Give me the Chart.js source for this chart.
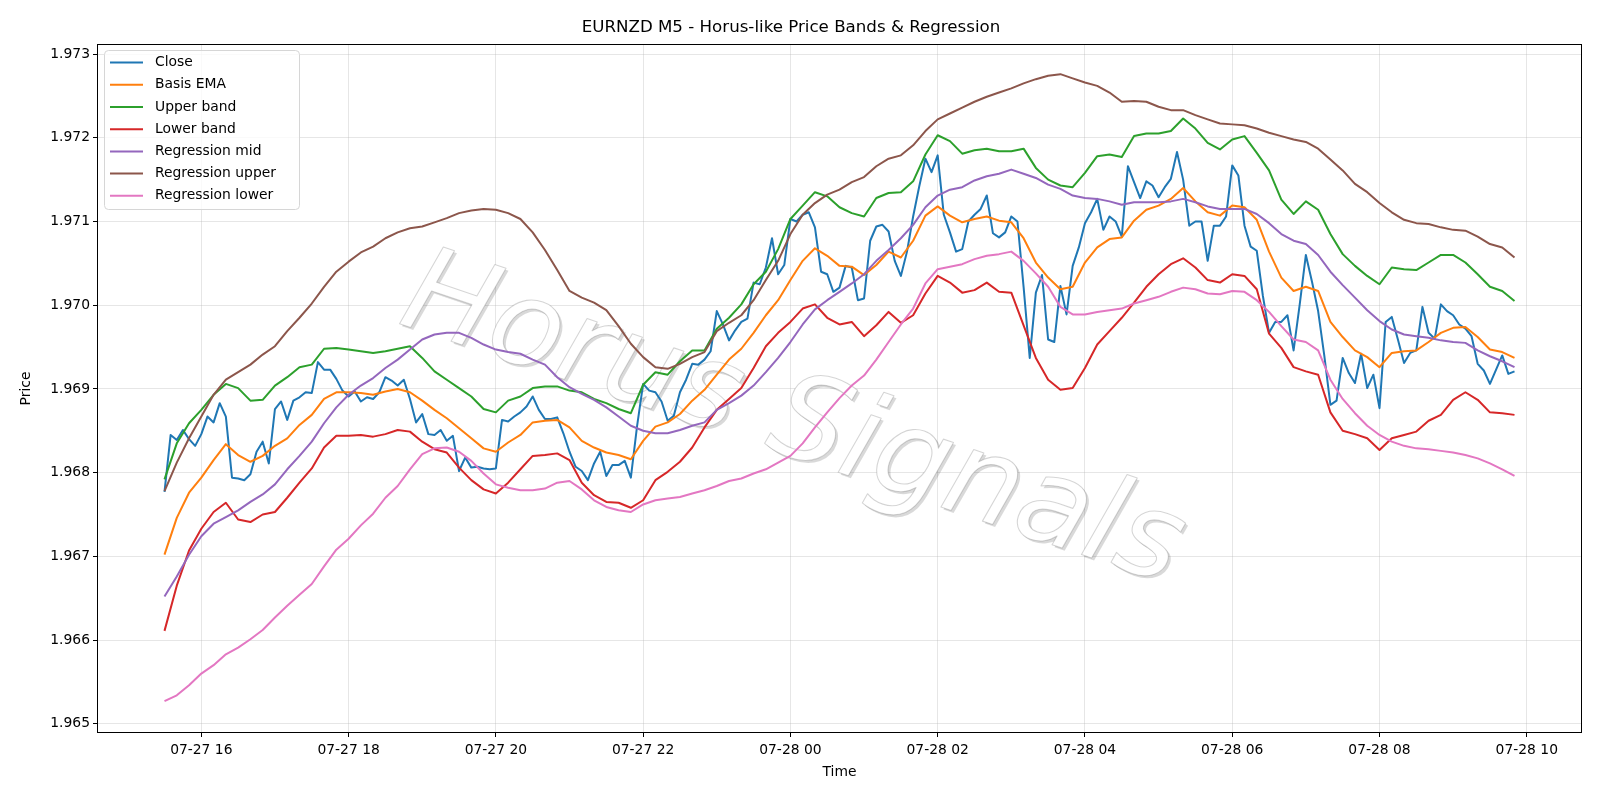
<!DOCTYPE html>
<html>
<head>
<meta charset="utf-8">
<title>EURNZD M5</title>
<script src="https://cdn.jsdelivr.net/npm/chart.js@4.4.1/dist/chart.umd.min.js"></script>
<style>
    html, body { margin: 0; padding: 0; background: #fff; }
</style>
</head>
<body>
<canvas id="priceChart" width="1600" height="800"></canvas>
<script>
// 時刻は 07-27 00:00 からの分数
const closeStart = 930;   // 07-27 15:30
const closeStep = 5;
const bandStart = 930;
const bandStep = 10;

// 終値 (5分足)
const closeValues = [
    1.96777, 1.96845, 1.96839, 1.96851, 1.9684, 1.96832, 1.96846, 1.96867, 1.9686, 1.96883,
    1.96867, 1.96794, 1.96793, 1.96791, 1.96798, 1.96825, 1.96837, 1.96811, 1.96876, 1.96885,
    1.96863, 1.96886, 1.9689, 1.96896, 1.96895, 1.96932, 1.96923, 1.96923, 1.96912, 1.96898,
    1.96891, 1.96897, 1.96885, 1.9689, 1.96888, 1.96896, 1.96914, 1.9691, 1.96904, 1.96911,
    1.96888, 1.9686, 1.9687, 1.96846, 1.96845, 1.96851, 1.96838, 1.96844, 1.96802, 1.96818,
    1.96806, 1.96807, 1.96805, 1.96804, 1.96805, 1.96863, 1.96861, 1.96867, 1.96872, 1.96879,
    1.96891, 1.96875, 1.96864, 1.96864, 1.96866, 1.96847, 1.96825, 1.96807, 1.96802, 1.96791,
    1.96811, 1.96825, 1.96796, 1.96809, 1.96809, 1.96814, 1.96794, 1.96855, 1.96906, 1.96898,
    1.96896, 1.96885, 1.96862, 1.96868, 1.96896, 1.96911, 1.9693, 1.96929, 1.96935, 1.96945,
    1.96993, 1.96977, 1.96958, 1.9697, 1.9698, 1.96984, 1.97027, 1.97025, 1.97045, 1.9708,
    1.97037, 1.97048, 1.97103, 1.971, 1.97108, 1.97111, 1.97093, 1.9704, 1.97037, 1.97016,
    1.97021, 1.97047, 1.97045, 1.97006, 1.97008, 1.97077, 1.97094, 1.97096, 1.97088, 1.97053,
    1.97035, 1.97064, 1.97106, 1.97142, 1.97175, 1.97159, 1.97179, 1.97108, 1.97087, 1.97064,
    1.97067, 1.971, 1.97108, 1.97115, 1.97131, 1.97086, 1.97081, 1.97087, 1.97106, 1.971,
    1.97022, 1.96937, 1.97015, 1.97036, 1.96959, 1.96956, 1.97023, 1.96989, 1.97047, 1.97069,
    1.97098, 1.97111, 1.97127, 1.9709, 1.97106, 1.971, 1.97082, 1.97166, 1.97147, 1.97128,
    1.97148, 1.97143, 1.97129, 1.97141, 1.97151, 1.97183, 1.9715, 1.97095, 1.971, 1.971,
    1.97053, 1.97095, 1.97095, 1.97106, 1.97167, 1.97155, 1.97095, 1.9707, 1.97065, 1.97011,
    1.96967, 1.9698, 1.9698, 1.96988, 1.96946, 1.97001, 1.9706, 1.97028, 1.96993, 1.9694,
    1.96881, 1.96886, 1.96937, 1.96919, 1.96907, 1.96942, 1.96901, 1.96917, 1.96877, 1.9698,
    1.96986, 1.96959, 1.96931, 1.96943, 1.96946, 1.96998, 1.96967, 1.9696, 1.97001, 1.96993,
    1.96988, 1.96977, 1.96972, 1.96963, 1.9693, 1.96922, 1.96906, 1.96923, 1.9694, 1.96918,
    1.96921
];

// バンド類 (10分ごとに読み取り)
const basisEma = [
    1.96702, 1.96746, 1.96776, 1.96794, 1.96815, 1.96834, 1.96821, 1.96813, 1.9682, 1.96832,
    1.96841, 1.96857, 1.96869, 1.96888, 1.96896, 1.96896, 1.96895, 1.96893, 1.96897, 1.969,
    1.96896, 1.96886, 1.96875, 1.96865, 1.96853, 1.96841, 1.96829, 1.96825, 1.96836, 1.96845,
    1.9686, 1.96862, 1.96863, 1.96854, 1.96838, 1.9683, 1.96824, 1.96821, 1.96816, 1.96838,
    1.96855, 1.9686, 1.9687, 1.96886, 1.96899, 1.96917, 1.96935, 1.96948, 1.96967, 1.96988,
    1.97006, 1.9703, 1.97053, 1.97068, 1.97059, 1.97047, 1.97046, 1.97036, 1.97048, 1.97064,
    1.97057, 1.97077, 1.97107, 1.97118, 1.97107, 1.97099, 1.97103, 1.97106, 1.97101, 1.97099,
    1.9708, 1.97051, 1.97033, 1.97019, 1.97022, 1.97051, 1.97069, 1.97079, 1.97081, 1.97101,
    1.97114, 1.97119, 1.97127, 1.9714, 1.97124, 1.97111, 1.97107, 1.97119, 1.97117, 1.97102,
    1.97064, 1.97033, 1.97017, 1.97022, 1.97017, 1.9698, 1.96962, 1.96946, 1.96938, 1.96926,
    1.96943, 1.96945, 1.96946, 1.96956, 1.96967, 1.96973, 1.96974, 1.96962, 1.96947, 1.96944,
    1.96937
];

const upperBand = [
    1.96792, 1.96835, 1.96859, 1.96875, 1.96893, 1.96906, 1.96901, 1.96886, 1.96887, 1.96904,
    1.96914, 1.96926, 1.96929, 1.96948, 1.96949, 1.96947, 1.96945, 1.96943, 1.96945, 1.96948,
    1.96951, 1.96937, 1.96921, 1.96911, 1.96901, 1.96891, 1.96876, 1.96872, 1.96886, 1.96891,
    1.96901, 1.96903, 1.96903, 1.96898, 1.96896, 1.96888, 1.96883, 1.96876, 1.96871, 1.96905,
    1.9692, 1.96917, 1.96933, 1.96946, 1.96946, 1.96972, 1.96985, 1.97001, 1.97025, 1.9704,
    1.97067, 1.97103, 1.97119, 1.97135, 1.9713, 1.97117, 1.9711, 1.97106, 1.97128, 1.97134,
    1.97135, 1.97148, 1.9718, 1.97203, 1.97196, 1.97181, 1.97185, 1.97187, 1.97184, 1.97184,
    1.97187, 1.97164, 1.9715, 1.97143, 1.97141, 1.97158, 1.97178, 1.9718, 1.97177, 1.97202,
    1.97205, 1.97205, 1.97208, 1.97223, 1.97211, 1.97194, 1.97186, 1.97198, 1.97202, 1.97182,
    1.97161, 1.97126, 1.97109, 1.97124, 1.97114, 1.97085, 1.97061, 1.97047, 1.97035, 1.97025,
    1.97045, 1.97043, 1.97042, 1.97051, 1.9706, 1.9706, 1.97051, 1.97037, 1.97022, 1.97017,
    1.97005
];

const lowerBand = [
    1.96611, 1.96665, 1.96707, 1.96733, 1.96753, 1.96764, 1.96744, 1.96741, 1.9675, 1.96753,
    1.9677, 1.96788, 1.96805, 1.9683, 1.96844, 1.96844, 1.96845, 1.96843, 1.96846, 1.96851,
    1.96849, 1.96837, 1.96828, 1.96824, 1.96806, 1.96791, 1.9678, 1.96775, 1.96788, 1.96804,
    1.9682, 1.96821, 1.96823, 1.96815, 1.96788, 1.96773, 1.96765, 1.96764, 1.96758, 1.96767,
    1.96791, 1.96801, 1.96813, 1.9683, 1.96854, 1.96875, 1.96888, 1.96901, 1.96925, 1.96951,
    1.96967, 1.9698, 1.96996, 1.97001, 1.96985, 1.96977, 1.9698, 1.96963, 1.96976, 1.96992,
    1.96979, 1.96988, 1.97014, 1.97035, 1.97027, 1.97015, 1.97018, 1.97027, 1.97016, 1.97015,
    1.96976, 1.96937, 1.96911, 1.96899, 1.96901, 1.96925, 1.96953, 1.96969, 1.96985, 1.97003,
    1.97022, 1.97037, 1.97049, 1.97056, 1.97045, 1.9703, 1.97027, 1.97037, 1.97035, 1.97019,
    1.96966, 1.96949, 1.96926, 1.96921, 1.96917, 1.96872, 1.9685, 1.96846, 1.96841, 1.96827,
    1.96841, 1.96845, 1.96849, 1.96862, 1.96869, 1.96887, 1.96896, 1.96887, 1.96872, 1.96871,
    1.96869
];

const regMid = [
    1.96652, 1.96676, 1.96702, 1.96724, 1.96739, 1.96747, 1.96755, 1.96765, 1.96774, 1.96786,
    1.96804, 1.9682, 1.96837, 1.96859, 1.96878, 1.96893, 1.96904, 1.96913, 1.96925, 1.96935,
    1.96947, 1.96959, 1.96965, 1.96967, 1.96967, 1.96961, 1.96953, 1.96947, 1.96944, 1.96942,
    1.96935, 1.96929, 1.96914, 1.96902, 1.96894, 1.96887, 1.96878, 1.96867, 1.96856, 1.9685,
    1.96847, 1.96847, 1.96851, 1.96856, 1.9686, 1.96875, 1.96883, 1.96892, 1.96904, 1.9692,
    1.96937, 1.96956, 1.96977, 1.96995, 1.97006, 1.97016, 1.97026, 1.97037, 1.97053, 1.97066,
    1.9708, 1.97096, 1.97117, 1.97131, 1.97138, 1.97141, 1.97149, 1.97154, 1.97157, 1.97162,
    1.97157, 1.97152, 1.97144, 1.97139, 1.97131, 1.97128, 1.97127, 1.97124, 1.9712, 1.97123,
    1.97123, 1.97123, 1.97124, 1.97127, 1.97123, 1.97118, 1.97115, 1.97115, 1.97115, 1.97109,
    1.97098, 1.97085, 1.97077, 1.97073, 1.9706, 1.9704, 1.97024, 1.97009, 1.96994, 1.96981,
    1.96971, 1.96965, 1.96963, 1.96961, 1.96958, 1.96956, 1.96955, 1.96946, 1.96939, 1.96933,
    1.96926
];

const regUpper = [
    1.96778, 1.96812, 1.96841, 1.96867, 1.96893, 1.96911, 1.9692, 1.96929, 1.96941, 1.96951,
    1.96969, 1.96985, 1.97002, 1.97022, 1.9704, 1.97052, 1.97063, 1.9707, 1.9708, 1.97087,
    1.97092, 1.97094, 1.97099, 1.97104, 1.9711, 1.97113, 1.97115, 1.97114, 1.9711, 1.97103,
    1.97087, 1.97066, 1.97042, 1.97017, 1.97009, 1.97003, 1.96994, 1.96975, 1.96954, 1.96938,
    1.96926, 1.96924, 1.9693, 1.96938, 1.96944, 1.96969, 1.96979, 1.96988, 1.97006, 1.9703,
    1.97053, 1.97085, 1.97108, 1.97122, 1.97132, 1.97138, 1.97147, 1.97153, 1.97166, 1.97175,
    1.97179, 1.97191, 1.97208, 1.97222, 1.97229, 1.97236, 1.97243, 1.97249, 1.97254, 1.97259,
    1.97265, 1.9727, 1.97274, 1.97276, 1.97271, 1.97266, 1.97262, 1.97254, 1.97243, 1.97244,
    1.97243, 1.97237, 1.97233, 1.97233, 1.97227, 1.97222, 1.97217, 1.97216, 1.97215, 1.97211,
    1.97206, 1.97202, 1.97198, 1.97195, 1.97187, 1.97174, 1.97161, 1.97145, 1.97135, 1.97122,
    1.97111, 1.97102, 1.97098, 1.97097, 1.97093, 1.9709, 1.97089, 1.97082, 1.97073, 1.97069,
    1.97057
];

const regLower = [
    1.96527, 1.96534, 1.96546, 1.9656, 1.9657, 1.96583, 1.96591, 1.96601, 1.96612, 1.96627,
    1.96641, 1.96654, 1.96667, 1.96688, 1.96708, 1.96721, 1.96737, 1.96751, 1.9677, 1.96784,
    1.96804, 1.96822, 1.96829, 1.9683, 1.96825, 1.96814, 1.96799, 1.96786, 1.96782, 1.96779,
    1.96779, 1.96781, 1.96788, 1.9679, 1.9678, 1.96767, 1.96759, 1.96755, 1.96753, 1.96762,
    1.96767, 1.96769, 1.96771, 1.96775, 1.96779, 1.96784, 1.9679, 1.96793, 1.96799, 1.96804,
    1.96812, 1.9682, 1.96835, 1.96854, 1.96872, 1.96889, 1.96904, 1.96916, 1.96935, 1.96956,
    1.96977, 1.96996, 1.97026, 1.97043, 1.97046, 1.97049, 1.97055, 1.97059, 1.97061, 1.97064,
    1.97053, 1.97038, 1.97022, 1.96998, 1.96989, 1.96989, 1.96992, 1.96994, 1.96996, 1.97002,
    1.97006, 1.9701, 1.97016, 1.97021, 1.97019, 1.97014, 1.97013, 1.97017, 1.97016, 1.97006,
    1.96992, 1.96975, 1.96959, 1.96956, 1.96946, 1.96911, 1.96888, 1.96871, 1.96856, 1.96845,
    1.96837, 1.96832, 1.96829, 1.96828, 1.96826, 1.96824, 1.96821, 1.96817, 1.96811, 1.96804,
    1.96796
];

const seriesLabels = ['Close', 'Basis EMA', 'Upper band', 'Lower band', 'Regression mid', 'Regression upper', 'Regression lower'];
const seriesColors = ['#1f77b4', '#ff7f0e', '#2ca02c', '#d62728', '#9467bd', '#8c564b', '#e377c2'];
const seriesValues = [closeValues, basisEma, upperBand, lowerBand, regMid, regUpper, regLower];

// 目盛り
const xTickValues = [960, 1080, 1200, 1320, 1440, 1560, 1680, 1800, 1920, 2040];
const yTickValues = [1.965, 1.966, 1.967, 1.968, 1.969, 1.970, 1.971, 1.972, 1.973];

const watermarkText = 'Horus Signals';
const baseFont = 'DejaVu Sans';
const gridColor = 'rgba(176,176,176,0.32)';

function toPoints(values, start, step) {
    return values.map((v, i) => ({ x: start + i * step, y: v }));
}

// 分数 -> "07-27 16"
function fmtTime(m) {
    const day = 27 + Math.floor(m / 1440);
    const h = Math.floor((m % 1440) / 60);
    return '07-' + day + ' ' + String(h).padStart(2, '0');
}

// 透かし文字
function drawWatermark(ctx) {
    const cx = 792, cy = 424;
    const angle = 18.7 * Math.PI / 180;
    ctx.save();
    ctx.font = 'italic 119px "' + baseFont + '"';
    ctx.textAlign = 'center';
    ctx.textBaseline = 'middle';
    ctx.lineJoin = 'round';

    // 影
    ctx.save();
    ctx.translate(cx + 2.5, cy + 2.5);
    ctx.rotate(angle);
    ctx.fillStyle = 'rgba(0,0,0,0.15)';
    ctx.fillText(watermarkText, 0, 0);
    ctx.restore();

    // 本体
    ctx.save();
    ctx.translate(cx, cy);
    ctx.rotate(angle);
    ctx.fillStyle = '#ffffff';
    ctx.fillText(watermarkText, 0, 0);
    ctx.strokeStyle = 'rgba(0,0,0,0.17)';
    ctx.lineWidth = 1.1;
    ctx.strokeText(watermarkText, 0, 0);
    ctx.restore();

    ctx.restore();
}

// 凡例 (左上の枠)
function drawLegend(chart) {
    const ctx = chart.ctx;
    const x0 = 104.5, y0 = 50.5, w = 195, h = 159, r = 4;
    ctx.save();
    ctx.beginPath();
    ctx.roundRect(x0, y0, w, h, r);
    ctx.fillStyle = 'rgba(255,255,255,0.8)';
    ctx.fill();
    ctx.strokeStyle = '#d6d6d6';
    ctx.lineWidth = 1;
    ctx.stroke();

    ctx.font = '13.89px "' + baseFont + '"';
    ctx.textBaseline = 'middle';
    ctx.textAlign = 'left';
    chart.data.datasets.forEach((ds, k) => {
        const y = 62.6 + k * 22.2;
        ctx.beginPath();
        ctx.moveTo(110, y);
        ctx.lineTo(143, y);
        ctx.strokeStyle = ds.borderColor;
        ctx.lineWidth = 2;
        ctx.stroke();
        ctx.fillStyle = '#000';
        ctx.fillText(ds.label, 155, y);
    });
    ctx.restore();
}

const overlayPlugin = {
    id: 'overlay',
    beforeDatasetsDraw(chart) {
        drawWatermark(chart.ctx);
    },
    afterDraw(chart) {
        const a = chart.chartArea;
        const ctx = chart.ctx;
        ctx.save();
        ctx.strokeStyle = '#000';
        ctx.lineWidth = 1;
        ctx.strokeRect(a.left + 0.5, a.top + 0.5, a.right - a.left - 1, a.bottom - a.top - 1);
        ctx.restore();
        drawLegend(chart);
    }
};

const datasets = seriesValues.map((vals, k) => ({
    label: seriesLabels[k],
    data: k === 0 ? toPoints(vals, closeStart, closeStep) : toPoints(vals, bandStart, bandStep),
    borderColor: seriesColors[k],
    backgroundColor: seriesColors[k],
    borderWidth: 2,
    borderJoinStyle: 'round',
    pointRadius: 0,
    fill: false,
    tension: 0,
    order: 6 - k
}));

const tickFont = { family: baseFont, size: 13.89 };

let ctx = document.getElementById('priceChart').getContext('2d');
let priceChart = new Chart(ctx, {
    type: 'line',
    data: { datasets: datasets },
    plugins: [overlayPlugin],
    options: {
        responsive: false,
        animation: false,
        devicePixelRatio: 1,
        layout: { padding: { left: 0, right: 18, top: 0, bottom: 0 } },
        plugins: {
            legend: { display: false },
            tooltip: { enabled: false },
            title: {
                display: true,
                text: 'EURNZD M5 - Horus-like Price Bands & Regression',
                color: '#000',
                font: { family: baseFont, size: 16.67, weight: 'normal' },
                padding: { top: 18, bottom: 6 }
            }
        },
        scales: {
            x: {
                type: 'linear',
                min: 875,
                max: 2085,
                afterBuildTicks: s => { s.ticks = xTickValues.map(v => ({ value: v })); },
                afterFit: s => { s.height = 67; },
                ticks: {
                    callback: v => fmtTime(v),
                    color: '#000',
                    font: tickFont,
                    padding: 5,
                    maxRotation: 0,
                    autoSkip: false
                },
                grid: { color: gridColor, lineWidth: 1, tickLength: 4, tickColor: '#000', tickWidth: 1 },
                border: { display: false },
                title: { display: true, text: 'Time', color: '#000', font: tickFont, padding: { top: 0, bottom: 19 } }
            },
            y: {
                type: 'linear',
                min: 1.96489,
                max: 1.97312,
                afterBuildTicks: s => { s.ticks = yTickValues.map(v => ({ value: v })); },
                afterFit: s => { s.width = 97; },
                ticks: {
                    callback: v => v.toFixed(3),
                    color: '#000',
                    font: tickFont,
                    padding: 3
                },
                grid: { color: gridColor, lineWidth: 1, tickLength: 4, tickColor: '#000', tickWidth: 1 },
                border: { display: false },
                title: { display: true, text: 'Price', color: '#000', font: tickFont, padding: { top: 18, bottom: 0 } }
            }
        }
    }
});
</script>
</body>
</html>
